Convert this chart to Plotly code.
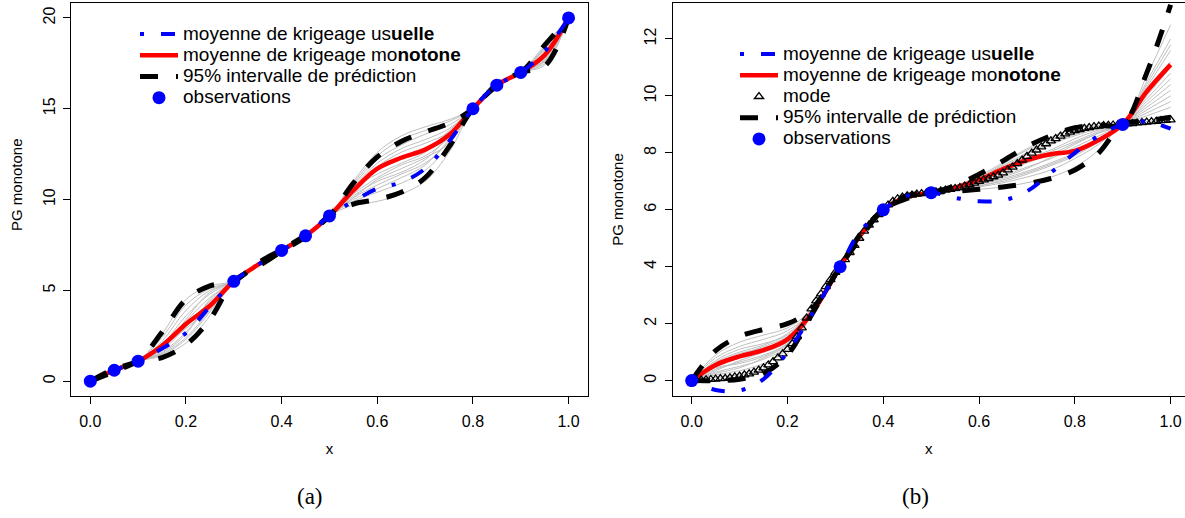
import plotly.graph_objects as go

# ---------------- data : panel (a) ----------------
XA = [0, 0.05, 0.1, 0.15, 0.2, 0.25, 0.3, 0.35, 0.4, 0.45, 0.5, 0.55, 0.6, 0.65, 0.7, 0.75, 0.8, 0.85, 0.9, 0.95, 1.0]
MEAN_A = [0, 0.6, 1.1, 1.95, 3.15, 4.15, 5.5, 6.4, 7.2, 8.0, 9.1, 10.5, 11.7, 12.3, 12.75, 13.55, 15.0, 16.3, 17.0, 17.95, 20.0]
UPPER_A = [0, 0.68, 1.15, 2.7, 4.5, 5.25, 5.5, 6.5, 7.25, 8.05, 9.1, 10.9, 12.35, 13.2, 13.72, 14.2, 15.0, 16.35, 17.0, 18.5, 20.0]
LOWER_A = [0, 0.52, 1.05, 1.3, 2.0, 3.4, 5.5, 6.3, 7.15, 7.95, 9.1, 9.75, 10.0, 10.4, 11.2, 12.9, 15.0, 16.25, 17.0, 17.35, 20.0]
USUAL_A = [0, 0.6, 1.1, 1.8, 2.65, 4.1, 5.5, 6.4, 7.2, 8.0, 9.1, 9.9, 10.6, 10.95, 11.7, 13.2, 15.0, 16.3, 17.0, 18.15, 20.0]
XA_OBS = [0, 0.05, 0.1, 0.3, 0.4, 0.45, 0.5, 0.8, 0.85, 0.9, 1.0]
YA_OBS = [0, 0.6, 1.1, 5.5, 7.2, 8.0, 9.1, 15.0, 16.3, 17.0, 20.0]
GRAY_A = [
    [0, 0.6, 1.1, 1.4, 2.1, 3.6, 5.5, 6.35, 7.2, 8.0, 9.1, 9.7, 9.9, 10.3, 11.0, 12.6, 15.0, 16.3, 17.0, 17.4, 20.0],
    [0, 0.6, 1.1, 1.5, 2.4, 3.9, 5.5, 6.38, 7.2, 8.0, 9.1, 9.9, 10.4, 10.9, 11.6, 13.0, 15.0, 16.3, 17.0, 17.6, 20.0],
    [0, 0.6, 1.1, 1.6, 2.7, 4.2, 5.5, 6.4, 7.2, 8.0, 9.1, 10.1, 10.8, 11.4, 12.0, 13.2, 15.0, 16.3, 17.0, 17.8, 20.0],
    [0, 0.6, 1.1, 1.7, 3.0, 4.4, 5.5, 6.42, 7.2, 8.0, 9.1, 10.3, 11.2, 11.9, 12.4, 13.4, 15.0, 16.3, 17.0, 18.0, 20.0],
    [0, 0.6, 1.1, 1.85, 3.3, 4.6, 5.5, 6.45, 7.2, 8.0, 9.1, 10.5, 11.6, 12.3, 12.8, 13.6, 15.0, 16.3, 17.0, 18.2, 20.0],
    [0, 0.6, 1.1, 2.0, 3.6, 4.8, 5.5, 6.48, 7.2, 8.0, 9.1, 10.7, 12.0, 12.8, 13.3, 13.9, 15.0, 16.3, 17.0, 18.4, 20.0],
    [0, 0.6, 1.1, 2.2, 3.9, 5.0, 5.5, 6.4, 7.2, 8.0, 9.1, 10.9, 12.4, 13.3, 13.8, 14.3, 15.0, 16.3, 17.0, 17.7, 20.0],
    [0, 0.6, 1.1, 2.4, 4.2, 5.1, 5.5, 6.36, 7.2, 8.0, 9.1, 10.2, 11.0, 11.5, 12.2, 13.5, 15.0, 16.3, 17.0, 17.9, 20.0],
    [0, 0.6, 1.1, 2.6, 4.5, 5.25, 5.5, 6.44, 7.2, 8.0, 9.1, 10.6, 11.4, 12.0, 12.6, 13.8, 15.0, 16.3, 17.0, 18.1, 20.0],
    [0, 0.6, 1.1, 1.9, 2.9, 4.0, 5.5, 6.39, 7.2, 8.0, 9.1, 10.0, 10.6, 11.2, 11.9, 13.3, 15.0, 16.3, 17.0, 18.3, 20.0],
    [0, 0.6, 1.1, 2.1, 3.2, 4.3, 5.5, 6.41, 7.2, 8.0, 9.1, 10.4, 11.8, 12.6, 13.1, 13.7, 15.0, 16.3, 17.0, 18.5, 20.0],
    [0, 0.6, 1.1, 1.55, 2.6, 4.5, 5.5, 6.43, 7.2, 8.0, 9.1, 11.0, 12.6, 13.5, 14.0, 14.4, 15.0, 16.3, 17.0, 17.5, 20.0],
    [0, 0.6, 1.1, 1.75, 3.4, 4.9, 5.5, 6.46, 7.2, 8.0, 9.1, 10.8, 12.2, 13.0, 13.6, 14.1, 15.0, 16.3, 17.0, 18.35, 20.0],
    [0, 0.6, 1.1, 1.45, 2.3, 3.8, 5.5, 6.37, 7.2, 8.0, 9.1, 10.1, 11.1, 11.7, 12.3, 13.1, 15.0, 16.3, 17.0, 17.65, 20.0],
]

# ---------------- data : panel (b) ----------------
XB = [0, 0.05, 0.1, 0.15, 0.2, 0.25, 0.31, 0.35, 0.4, 0.45, 0.5, 0.55, 0.6, 0.65, 0.7, 0.75, 0.8, 0.85, 0.9, 0.95, 1.0]
MEAN_B = [0, 0.55, 0.85, 1.07, 1.45, 2.35, 4.0, 5.05, 6.0, 6.45, 6.6, 6.78, 7.05, 7.43, 7.75, 7.95, 8.07, 8.45, 9.0, 10.15, 11.1]
UPPER_B = [0, 1.05, 1.55, 1.8, 2.0, 2.5, 4.0, 5.1, 6.0, 6.5, 6.6, 6.85, 7.25, 7.72, 8.22, 8.6, 8.88, 8.98, 9.0, 10.8, 13.2]
LOWER_B = [0, 0.0, 0.05, 0.25, 0.9, 2.3, 4.0, 4.95, 6.0, 6.4, 6.6, 6.65, 6.72, 6.8, 6.92, 7.1, 7.4, 8.0, 9.0, 9.12, 9.25]
USUAL_B = [0, -0.33, -0.35, 0.05, 1.0, 2.3, 4.0, 5.2, 6.0, 6.5, 6.6, 6.42, 6.3, 6.33, 6.65, 7.3, 8.0, 8.6, 9.0, 9.1, 8.85]
XB_OBS = [0, 0.31, 0.4, 0.5, 0.9]
YB_OBS = [0, 4.0, 6.0, 6.6, 9.0]
XB_MODE = [0.00, 0.01, 0.02, 0.03, 0.04, 0.05, 0.06, 0.07, 0.08, 0.09,
           0.10, 0.11, 0.12, 0.13, 0.14, 0.15, 0.16, 0.17, 0.18, 0.19,
           0.20, 0.21, 0.22, 0.23, 0.24, 0.25, 0.26, 0.27, 0.28, 0.29,
           0.30, 0.31, 0.32, 0.33, 0.34, 0.35, 0.36, 0.37, 0.38, 0.39,
           0.40, 0.41, 0.42, 0.43, 0.44, 0.45, 0.46, 0.47, 0.48, 0.49,
           0.50, 0.51, 0.52, 0.53, 0.54, 0.55, 0.56, 0.57, 0.58, 0.59,
           0.60, 0.61, 0.62, 0.63, 0.64, 0.65, 0.66, 0.67, 0.68, 0.69,
           0.70, 0.71, 0.72, 0.73, 0.74, 0.75, 0.76, 0.77, 0.78, 0.79,
           0.80, 0.81, 0.82, 0.83, 0.84, 0.85, 0.86, 0.87, 0.88, 0.89,
           0.90, 0.91, 0.92, 0.93, 0.94, 0.95, 0.96, 0.97, 0.98, 0.99, 1.00]
MODE_B = [0.0, 0.01, 0.02, 0.03, 0.04, 0.05, 0.07, 0.08, 0.1, 0.13,
          0.16, 0.2, 0.24, 0.3, 0.37, 0.45, 0.55, 0.67, 0.8, 0.94,
          1.1, 1.3, 1.55, 1.85, 2.2, 2.52, 2.8, 3.05, 3.3, 3.55,
          3.8, 4.02, 4.25, 4.5, 4.75, 5.0, 5.25, 5.46, 5.65, 5.83,
          6.0, 6.17, 6.3, 6.39, 6.45, 6.49, 6.52, 6.55, 6.57, 6.59,
          6.6, 6.63, 6.66, 6.69, 6.72, 6.75, 6.78, 6.83, 6.88, 6.94,
          7.0, 7.05, 7.1, 7.16, 7.22, 7.3, 7.4, 7.5, 7.62, 7.75,
          7.88, 7.99, 8.1, 8.21, 8.32, 8.42, 8.5, 8.59, 8.67, 8.73,
          8.78, 8.82, 8.86, 8.89, 8.92, 8.94, 8.96, 8.97, 8.98, 8.99,
          9.0, 9.02, 9.03, 9.05, 9.06, 9.08, 9.1, 9.11, 9.13, 9.14, 9.16]
GRAY_B = [
    [0, 0.1, 0.2, 0.4, 0.95, 2.3, 4.0, 4.97, 6.0, 6.42, 6.6, 6.65, 6.72, 6.8, 6.95, 7.15, 7.5, 8.1, 9.0, 9.1, 9.2],
    [0, 0.2, 0.35, 0.6, 1.1, 2.3, 4.0, 5.0, 6.0, 6.44, 6.6, 6.68, 6.8, 6.95, 7.15, 7.4, 7.8, 8.3, 9.0, 9.3, 9.6],
    [0, 0.3, 0.5, 0.75, 1.2, 2.35, 4.0, 5.02, 6.0, 6.45, 6.6, 6.7, 6.88, 7.1, 7.35, 7.65, 8.0, 8.5, 9.0, 9.5, 10.0],
    [0, 0.4, 0.65, 0.9, 1.3, 2.35, 4.0, 5.04, 6.0, 6.46, 6.6, 6.72, 6.95, 7.2, 7.5, 7.8, 8.2, 8.6, 9.0, 9.7, 10.4],
    [0, 0.5, 0.8, 1.0, 1.4, 2.4, 4.0, 5.05, 6.0, 6.47, 6.6, 6.75, 7.0, 7.3, 7.65, 7.95, 8.35, 8.7, 9.0, 9.9, 10.8],
    [0, 0.6, 0.95, 1.15, 1.5, 2.4, 4.0, 5.06, 6.0, 6.48, 6.6, 6.77, 7.05, 7.4, 7.8, 8.1, 8.5, 8.8, 9.0, 10.1, 11.2],
    [0, 0.7, 1.1, 1.3, 1.6, 2.45, 4.0, 5.07, 6.0, 6.49, 6.6, 6.8, 7.1, 7.5, 7.95, 8.3, 8.6, 8.85, 9.0, 10.3, 11.6],
    [0, 0.8, 1.2, 1.45, 1.75, 2.45, 4.0, 5.08, 6.0, 6.5, 6.6, 6.82, 7.15, 7.6, 8.1, 8.45, 8.75, 8.92, 9.0, 10.5, 12.0],
    [0, 0.9, 1.35, 1.6, 1.85, 2.5, 4.0, 5.09, 6.0, 6.5, 6.6, 6.84, 7.2, 7.65, 8.15, 8.55, 8.85, 8.96, 9.0, 10.7, 12.5],
    [0, 0.35, 0.7, 1.0, 1.35, 2.35, 4.0, 5.03, 6.0, 6.46, 6.6, 6.7, 6.9, 7.15, 7.45, 7.85, 8.3, 8.7, 9.0, 9.8, 10.6],
    [0, 0.55, 0.9, 1.2, 1.55, 2.4, 4.0, 5.05, 6.0, 6.47, 6.6, 6.75, 7.02, 7.35, 7.7, 8.05, 8.4, 8.75, 9.0, 10.0, 11.0],
    [0, 0.25, 0.45, 0.8, 1.25, 2.3, 4.0, 5.01, 6.0, 6.45, 6.6, 6.72, 6.85, 7.0, 7.25, 7.55, 7.9, 8.4, 9.0, 9.4, 9.8],
    [0, 0.65, 1.0, 1.25, 1.65, 2.45, 4.0, 5.06, 6.0, 6.48, 6.6, 6.79, 7.12, 7.55, 8.0, 8.35, 8.65, 8.9, 9.0, 10.4, 11.8],
    [0, 0.45, 0.6, 0.85, 1.3, 2.35, 4.0, 5.03, 6.0, 6.46, 6.6, 6.69, 6.83, 7.05, 7.3, 7.6, 7.95, 8.45, 9.0, 9.6, 10.2],
]

X_TICKS = [0, 0.2, 0.4, 0.6, 0.8, 1.0]
X_TICKTEXT = ["0.0", "0.2", "0.4", "0.6", "0.8", "1.0"]
YA_TICKS = [0, 5, 10, 15, 20]
YB_TICKS = [0, 2, 4, 6, 8, 10, 12]

LBL_USUAL = "moyenne de krigeage us<b>uelle</b>"
LBL_MONO = "moyenne de krigeage mo<b>notone</b>"
LBL_MODE = "mode"
LBL_PI = "95% intervalle de prédiction"
LBL_OBS = "observations"
LBL_Y = "PG monotone"
LBL_X = "x"

# ---------------- styles ----------------
FONT = "Liberation Sans, Arial, sans-serif"
GRAY = "#bebebe"
BLUE = "#0000ff"
RED = "#ff0000"
BLUE_DASH = "4px,17px,14px,17px"
BLACK_DASH = "18px,18px"


def leg(txt):
    return '<span style="font-size:19px">' + txt + '</span>'


fig = go.Figure()


def add_panel(xs, mean, upper, lower, usual, xo, yo, grays, xa, ya, lg, mode_x=None, mode_y=None):
    for g in grays:
        fig.add_trace(go.Scatter(x=xs, y=g, mode="lines", line=dict(color=GRAY, width=1, shape="spline"),
                                 showlegend=False, hoverinfo="skip", xaxis=xa, yaxis=ya))
    fig.add_trace(go.Scatter(x=xs, y=mean, mode="lines", name=leg(LBL_MONO),
                             line=dict(color=RED, width=4.5, shape="spline"),
                             legend=lg, legendrank=2, xaxis=xa, yaxis=ya))
    fig.add_trace(go.Scatter(x=xs, y=upper, mode="lines", name=leg(LBL_PI),
                             line=dict(color="black", width=5, dash=BLACK_DASH, shape="spline"),
                             legend=lg, legendrank=4, xaxis=xa, yaxis=ya))
    fig.add_trace(go.Scatter(x=xs, y=lower, mode="lines", name=leg(LBL_PI), showlegend=False,
                             line=dict(color="black", width=5, dash=BLACK_DASH, shape="spline"),
                             legend=lg, xaxis=xa, yaxis=ya))
    if mode_x is not None:
        fig.add_trace(go.Scatter(x=mode_x, y=mode_y, mode="markers", name=leg(LBL_MODE),
                                 marker=dict(symbol="triangle-up-open", size=8, color="black",
                                             line=dict(width=1.3, color="black")),
                                 legend=lg, legendrank=3, xaxis=xa, yaxis=ya))
    fig.add_trace(go.Scatter(x=xs, y=usual, mode="lines", name=leg(LBL_USUAL),
                             line=dict(color=BLUE, width=4, dash=BLUE_DASH, shape="spline"),
                             legend=lg, legendrank=1, xaxis=xa, yaxis=ya))
    fig.add_trace(go.Scatter(x=xo, y=yo, mode="markers", name=leg(LBL_OBS),
                             marker=dict(color=BLUE, size=13, line=dict(width=0)),
                             legend=lg, legendrank=5, xaxis=xa, yaxis=ya))


add_panel(XA, MEAN_A, UPPER_A, LOWER_A, USUAL_A, XA_OBS, YA_OBS, GRAY_A, "x", "y", "legend")
add_panel(XB, MEAN_B, UPPER_B, LOWER_B, USUAL_B, XB_OBS, YB_OBS, GRAY_B, "x2", "y2", "legend2",
          XB_MODE, MODE_B)

W, H = 1185, 518
Y_DOM = [1 - 395.7 / H, 1 - 3.4 / H]

axis_common = dict(showgrid=False, zeroline=False, showline=True, linecolor="black", linewidth=1,
                   ticks="outside", ticklen=7, tickwidth=1, tickcolor="black",
                   tickfont=dict(family=FONT, size=16, color="black"))
title_font = dict(family=FONT, size=15, color="black")

fig.update_layout(
    width=W, height=H,
    margin=dict(l=0, r=0, t=0, b=0),
    paper_bgcolor="white", plot_bgcolor="white",
    font=dict(family=FONT, color="black"),
    xaxis=dict(domain=[71.2 / W, 587.7 / W], range=[-0.04, 1.04], tickvals=X_TICKS, ticktext=X_TICKTEXT,
               mirror=True, anchor="y", ticklabelstandoff=4,
               title=dict(text=LBL_X, font=title_font, standoff=14), **axis_common),
    yaxis=dict(domain=Y_DOM, range=[-0.8, 20.8], tickvals=YA_TICKS, tickangle=-90, mirror=True,
               anchor="x", ticklabelstandoff=2, **axis_common),
    xaxis2=dict(domain=[672.5 / W, 1.0], range=[-0.04, 1.03], tickvals=X_TICKS, ticktext=X_TICKTEXT,
                mirror=True, anchor="y2", ticklabelstandoff=4,
                title=dict(text=LBL_X, font=title_font, standoff=14), **axis_common),
    yaxis2=dict(domain=Y_DOM, range=[-0.53, 13.25], tickvals=YB_TICKS, tickangle=-90, mirror=False,
                anchor="x2", ticklabelstandoff=2,
                title=dict(text=LBL_Y, font=title_font, standoff=14), **axis_common),
    legend=dict(x=135 / W, y=1 - 18.5 / H, xanchor="left", yanchor="top", font=dict(size=14, family=FONT),
                bgcolor="rgba(0,0,0,0)", borderwidth=0, itemwidth=38, tracegroupgap=0),
    legend2=dict(x=735 / W, y=1 - 38.5 / H, xanchor="left", yanchor="top", font=dict(size=14, family=FONT),
                 bgcolor="rgba(0,0,0,0)", borderwidth=0, itemwidth=38, tracegroupgap=0),
    annotations=[
        # y title of panel (a): sits a little above the plot centre in the reference
        dict(text=LBL_Y, x=16 / W, y=1 - 185 / H, xref="paper", yref="paper", showarrow=False,
             textangle=-90, xanchor="center", yanchor="middle", font=title_font),
        dict(text="(a)", x=310 / W, y=1 - 496 / H, xref="paper", yref="paper", showarrow=False,
             xanchor="center", yanchor="middle",
             font=dict(family="Liberation Serif, serif", size=23, color="black")),
        dict(text="(b)", x=915 / W, y=1 - 496 / H, xref="paper", yref="paper", showarrow=False,
             xanchor="center", yanchor="middle",
             font=dict(family="Liberation Serif, serif", size=23, color="black")),
    ],
    showlegend=True,
)

fig.write_html("out.html", config={"displayModeBar": False},
               post_script="document.body.style.margin='0px';")
